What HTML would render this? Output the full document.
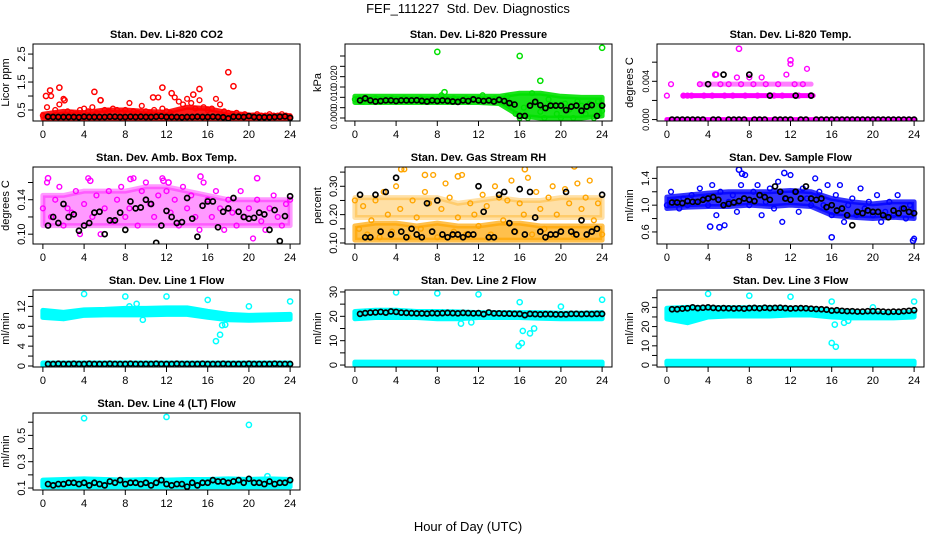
<!DOCTYPE html>
<html><head><meta charset="utf-8"><style>
body{margin:0;background:#fff}
svg{display:block;font-family:"Liberation Sans",sans-serif}
</style></head><body>
<svg id="c" width="936" height="540" viewBox="0 0 936 540">
<text x="468" y="13" text-anchor="middle" font-size="13">FEF_111227&#160; Std. Dev. Diagnostics</text>
<text x="468" y="531" text-anchor="middle" font-size="13">Hour of Day (UTC)</text>
</svg>
<script>
const xTicks=[0,4,8,12,16,20,24];
const times61=[0,0.4,0.8,1.2,1.6,2,2.4,2.8,3.2,3.6,4,4.4,4.8,5.2,5.6,6,6.4,6.8,7.2,7.6,8,8.4,8.8,9.2,9.6,10,10.4,10.8,11.2,11.6,12,12.4,12.8,13.2,13.6,14,14.4,14.8,15.2,15.6,16,16.4,16.8,17.2,17.6,18,18.4,18.8,19.2,19.6,20,20.4,20.8,21.2,21.6,22,22.4,22.8,23.2,23.6,24];
const blackTimes=[0.5,1,1.5,2,2.5,3,3.5,4,4.5,5,5.5,6,6.5,7,7.5,8,8.5,9,9.5,10,10.5,11,11.5,12,12.5,13,13.5,14,14.5,15,15.5,16,16.5,17,17.5,18,18.5,19,19.5,20,20.5,21,21.5,22,22.5,23,23.5,24];
const bandHours=[0,2,4,6,8,10,12,14,16,18,20,22,24];

// CO2
const co2Scatter=[0.3,0.6,1.0,0.5,0.7,0.9,0.45,0.4,0.35,0.5,0.55,0.45,0.6,0.4,0.85,0.5,0.45,0.55,0.5,0.4,0.5,0.75,0.45,0.4,0.65,0.45,0.4,0.5,0.95,0.55,0.45,0.4,0.95,0.8,0.7,0.9,0.75,0.55,0.85,0.6,0.5,0.55,0.9,0.7,0.45,0.4,0.35,0.4,0.3,0.35,0.3,0.3,0.35,0.3,0.3,0.35,0.3,0.3,0.35,0.3,0.25];
const co2BandLo=[0.2,0.2,0.2,0.2,0.2,0.2,0.2,0.2,0.2,0.2,0.2,0.2,0.2];
const co2BandHi=[0.35,0.45,0.4,0.5,0.5,0.45,0.42,0.6,0.55,0.4,0.32,0.3,0.3];
const co2OutX=[15.3,18,18.5,1.6,11.6,15.2,5,12.5,0.7,0.3,2.1,5.6,10.7,14.6];
const co2OutY=[2.98,1.85,1.35,1.3,1.3,1.25,1.15,1.1,1.2,1.0,0.85,0.85,0.95,1.05];
const co2Black=[0.26,0.25,0.25,0.25,0.25,0.25,0.24,0.26,0.25,0.25,0.25,0.25,0.26,0.26,0.25,0.25,0.26,0.25,0.26,0.25,0.25,0.26,0.27,0.25,0.25,0.25,0.24,0.25,0.25,0.26,0.25,0.25,0.26,0.25,0.24,0.2,0.26,0.26,0.25,0.28,0.25,0.24,0.24,0.24,0.25,0.26,0.27,0.22];
// Pressure
const presScatter=[0.009,0.0095,0.008,0.009,0.0085,0.0095,0.008,0.009,0.0085,0.0095,0.009,0.0085,0.0095,0.008,0.009,0.0085,0.0095,0.009,0.008,0.0095,0.0085,0.011,0.009,0.0085,0.0095,0.009,0.0085,0.0095,0.009,0.0085,0.0095,0.011,0.009,0.0085,0.0095,0.009,0.0085,0.0105,0.007,0.002,0.0,0.005,0.0,0.012,0.008,0.003,0.0,0.009,0.006,0.002,0.0,0.007,0.004,0.0,0.008,0.006,0.002,0.007,0.0,0.008,0.0035];
const presBandLo=[0.0075,0.0075,0.0075,0.0075,0.0075,0.0075,0.0075,0.007,0.001,0,0,0,0.001];
const presBandHi=[0.0105,0.0105,0.0105,0.0105,0.0105,0.0105,0.0105,0.0105,0.012,0.012,0.0105,0.01,0.01];
const presOutX=[8,16,18,24,8.7];
const presOutY=[0.032,0.030,0.018,0.034,0.0125];
const presBlack=[0.0085,0.0095,0.0085,0.008,0.0082,0.0085,0.0085,0.0082,0.0085,0.0085,0.0085,0.0086,0.0083,0.008,0.0085,0.0082,0.0085,0.0083,0.008,0.0078,0.0085,0.0082,0.009,0.0085,0.0082,0.0085,0.008,0.0088,0.0082,0.0072,0.0065,0.001,0.001,0.006,0.0078,0.0062,0.0048,0.006,0.006,0.006,0.0038,0.0055,0.006,0.0035,0.0055,0.0062,0.001,0.006];
// Temp
const tempScatter=[0.0025,0.0037,null,null,0.0025,0.0025,0.0025,null,0.0037,0.0025,0.0037,0.0025,0.0047,0.0037,0.0025,0.0037,0.0025,0.0044,0.0037,0.0025,0.0044,0.0037,0.0025,0.0044,0.0037,0.0025,0.0025,0.0037,0.0025,0.0047,0.0058,0.0037,0.0025,0.0037,0.0053,0.0025];
const tempRowT=[0,24];
const tempRow0Lo=[0,0];
const tempRow0Hi=[0,0];
const tempRowAT=[1.6,14.2];
const tempRowALo=[0.0025,0.0025];
const tempRowAHi=[0.0025,0.0025];
const tempRowBT=[3.2,14];
const tempRowBLo=[0.0037,0.0037];
const tempRowBHi=[0.0037,0.0037];
const tempOutX=[7,12,4.7];
const tempOutY=[0.0074,0.0062,0.0047];
const tempBlack=[0,0,0,0,0,0,0,0.0037,0,0,0.0047,0,0,0,0,0.0047,0,0,0,0.0025,0,0,0,0,0.0025,0,0,0.0025,0,0,0,0,0,0,0,0,0,0,0,0,0,0,0,0,0,0,0,0];
// Amb box temp
const ambScatter=[0.13,0.16,0.12,0.14,0.155,0.11,0.13,0.125,0.15,0.10,0.135,0.165,0.12,0.145,0.10,0.13,0.15,0.115,0.14,0.155,0.12,0.13,0.165,0.11,0.15,0.16,0.135,0.12,0.145,0.165,0.15,0.125,0.14,0.11,0.155,0.13,0.145,0.12,0.105,0.16,0.14,0.12,0.15,0.13,0.105,0.14,0.125,0.11,0.15,0.12,0.13,0.095,0.14,0.115,0.105,0.13,0.145,0.12,0.11,0.135,0.14];
const ambBandLo=[0.11,0.11,0.11,0.11,0.11,0.11,0.11,0.11,0.11,0.11,0.11,0.11,0.11];
const ambBandHi=[0.145,0.145,0.15,0.15,0.15,0.155,0.155,0.15,0.145,0.14,0.14,0.14,0.14];
const ambOutX=[0.5,4.6,8.5,11.7,15.3,20.8,12.2];
const ambOutY=[0.165,0.162,0.164,0.162,0.167,0.165,0.16];
const ambBlack=[0.11,0.12,0.113,0.135,0.12,0.123,0.104,0.11,0.113,0.125,0.126,0.10,0.116,0.116,0.125,0.105,0.138,0.13,0.131,0.14,0.135,0.09,0.11,0.127,0.12,0.113,0.114,0.142,0.118,0.097,0.133,0.138,0.138,0.108,0.126,0.13,0.142,0.126,0.12,0.118,0.119,0.125,0.123,0.105,0.128,0.092,0.121,0.144];
// RH
const rhScatter=[0.25,0.15,0.23,0.13,0.18,0.25,0.12,0.28,0.2,0.14,0.3,0.22,0.36,0.12,0.25,0.19,0.15,0.28,0.24,0.34,0.12,0.22,0.31,0.26,0.14,0.19,0.34,0.13,0.24,0.2,0.16,0.27,0.23,0.13,0.3,0.26,0.18,0.25,0.32,0.14,0.24,0.2,0.33,0.13,0.28,0.22,0.15,0.26,0.3,0.2,0.14,0.29,0.24,0.13,0.31,0.22,0.26,0.32,0.18,0.24,0.13];
const rhBandLo=[0.11,0.11,0.11,0.11,0.11,0.11,0.11,0.11,0.11,0.11,0.11,0.11,0.11];
const rhBandHi=[0.16,0.17,0.17,0.16,0.17,0.16,0.16,0.17,0.17,0.16,0.16,0.16,0.16];
const rhBand2Lo=[0.19,0.19,0.19,0.19,0.19,0.19,0.19,0.19,0.19,0.19,0.19,0.19,0.19];
const rhBand2Hi=[0.26,0.26,0.26,0.26,0.26,0.24,0.25,0.26,0.25,0.25,0.26,0.26,0.26];
const rhOutX=[4.5,6.8,10,16.5,21.3];
const rhOutY=[0.36,0.34,0.335,0.36,0.37];
const rhBlack=[0.27,0.12,0.12,0.27,0.14,0.28,0.13,0.33,0.14,0.12,0.15,0.13,0.12,0.24,0.14,0.25,0.13,0.12,0.13,0.13,0.12,0.13,0.13,0.3,0.21,0.12,0.12,0.27,0.28,0.17,0.14,0.29,0.13,0.28,0.19,0.14,0.12,0.13,0.13,0.14,0.28,0.14,0.13,0.18,0.13,0.14,0.15,0.27];
// Sample flow
const flowScatter=[1.0,1.2,1.05,0.95,1.1,1.0,1.15,1.05,1.25,1.1,1.0,1.3,0.85,1.2,0.7,1.05,1.15,0.9,1.3,1.45,1.0,1.2,1.3,0.85,1.05,1.25,0.95,1.35,0.75,1.1,1.45,1.2,0.9,1.25,1.1,1.0,1.4,1.2,1.0,1.3,0.85,1.15,1.3,0.75,1.0,1.1,0.85,1.25,0.95,1.05,0.85,1.15,0.75,0.9,1.05,0.85,1.15,0.95,0.8,1.0,0.5];
const flowBandLo=[0.95,0.97,0.98,0.98,1.0,0.98,1.0,0.98,0.85,0.82,0.8,0.82,0.8];
const flowBandHi=[1.12,1.15,1.18,1.2,1.2,1.2,1.22,1.2,1.1,1.05,1.02,1.05,1.05];
const flowOutX=[4.2,5.1,7,7.3,16,23.9,11.4];
const flowOutY=[0.68,0.67,1.53,1.47,0.52,0.47,1.48];
const flowBlack=[1.04,1.04,1.03,1.06,1.05,1.05,1.08,1.1,1.12,1.08,1.0,1.02,1.04,1.06,1.1,1.08,1.06,1.15,1.12,1.08,1.28,1.2,1.1,1.08,1.2,1.1,1.28,1.1,1.08,1.1,0.97,1.0,0.92,0.95,0.85,0.7,0.9,0.88,0.92,0.9,0.9,0.85,0.82,0.92,0.88,0.95,0.9,0.88];
// Line 1
const l1BandLo=[9.8,9.5,10.2,10.3,10.3,10.3,10.4,10.4,9.8,9.3,9.2,9.3,9.4];
const l1BandHi=[11.2,10.8,11.3,11.4,11.6,11.6,11.7,11.7,11.0,10.4,10.2,10.3,10.4];
const l1LowLo=[0.1,0.1,0.1,0.1,0.1,0.1,0.1,0.1,0.1,0.1,0.1,0.1,0.1];
const l1LowHi=[0.6,0.6,0.6,0.6,0.6,0.6,0.6,0.6,0.6,0.6,0.6,0.6,0.6];
const l1OutX=[4,8,12,16,20,24,16.8,17.2,17.4,17.7,9.7,9.1,8.4];
const l1OutY=[14.5,14,14,13.3,12,13,5,6.3,8.2,8.3,9.3,12.5,12];
const l1Black=[0.4,0.4,0.45,0.4,0.4,0.45,0.4,0.4,0.45,0.4,0.4,0.4,0.45,0.4,0.4,0.4,0.45,0.4,0.4,0.4,0.4,0.45,0.4,0.4,0.4,0.45,0.4,0.4,0.4,0.4,0.45,0.4,0.4,0.4,0.45,0.4,0.4,0.4,0.4,0.45,0.4,0.4,0.4,0.4,0.45,0.4,0.4,0.4];
// Line 2
const l2BandLo=[19,19.5,19.5,19.5,19,19,19.5,19.5,19.5,19.2,19,19,19];
const l2BandHi=[22,22.5,22.5,22,22,21.8,21.5,21.5,21.5,21.5,21.3,21.3,21.5];
const l2LowLo=[0,0,0,0,0,0,0,0,0,0,0,0,0];
const l2LowHi=[1.2,1.2,1.2,1.2,1.2,1.2,1.2,1.2,1.2,1.2,1.2,1.2,1.2];
const l2OutX=[4,8,12,16,20,24,15.9,16.2,16.3,17,17.4,10.3,11.3];
const l2OutY=[29.8,29.4,29,25.8,24,26.8,7.8,9,14,13,15,17,17.5];
const l2Black=[21,21.3,21.5,21.6,21.8,21.5,22,21.8,21.5,21.4,21.3,21.2,21.2,21.1,21.3,21.2,21.3,21.4,21.3,21.2,21.4,21.3,21.2,21.3,20.9,21.6,21.2,21.2,21.1,21.1,21,21,20.5,21,20.9,20.8,20.9,20.9,20.8,20.8,20.8,21,21,20.9,21,20.9,21,21];
// Line 3
const l3BandLo=[24,22,25,25.5,25.5,25.5,26,26,25,24.5,24.5,24.5,25];
const l3BandHi=[29.5,30,29.8,29.8,29.8,29.8,29.5,29,28,27.5,27,27,27.5];
const l3LowLo=[0.3,0.3,0.3,0.3,0.3,0.3,0.3,0.3,0.3,0.3,0.3,0.3,0.3];
const l3LowHi=[2,2,2,2,2,2,2,2,2,2,2,2,2];
const l3OutX=[4,8,12,16,24,16,16.4,16.3,17.2,20,17.6];
const l3OutY=[37,36,35.5,33,33,11.5,9.5,21,22,30,23];
const l3Black=[29,29,29.3,29.5,30,29.6,29.8,30,29.7,29.5,29.6,29.5,29.4,29.5,29.3,29.6,29.7,29.5,29.8,29.6,29.7,29.8,29.6,29.4,29.5,29.6,29.5,29.3,29.1,29,28.8,28.3,28.5,28.2,28,28,27.8,27.8,28,28,28,27.8,27.6,27.8,27.7,28,28.2,28.5];
// Line 4
const l4BandLo=[0.11,0.11,0.11,0.11,0.11,0.11,0.11,0.11,0.11,0.11,0.11,0.11,0.11];
const l4BandHi=[0.16,0.165,0.17,0.165,0.16,0.165,0.16,0.165,0.165,0.17,0.165,0.17,0.165];
const l4OutX=[4,12,20,21.8];
const l4OutY=[0.63,0.64,0.58,0.19];
const l4Black=[0.13,0.12,0.13,0.13,0.14,0.14,0.13,0.14,0.12,0.14,0.13,0.12,0.15,0.14,0.16,0.13,0.14,0.14,0.13,0.14,0.12,0.14,0.16,0.13,0.12,0.13,0.13,0.11,0.14,0.12,0.14,0.14,0.16,0.15,0.15,0.14,0.15,0.16,0.14,0.17,0.14,0.14,0.13,0.15,0.13,0.14,0.14,0.16];

// tick definitions
const co2Ticks=[0.5,1,1.5,2,2.5], co2Labels=[0.5,1.5,2.5];
const presTicks=[0,0.005,0.01,0.015,0.02,0.025,0.03], presLabels=[0,0.01,0.02];
const tempTicks=[0,0.002,0.004,0.006], tempLabels=[0,0.004];
const ambTicks=[0.10,0.12,0.14,0.16], ambLabels=[0.10,0.14];
const rhTicks=[0.10,0.15,0.20,0.25,0.30,0.35], rhLabels=[0.10,0.20,0.30];
const flowTicks=[0.6,0.8,1.0,1.2,1.4], flowLabels=[0.6,1.0,1.4];
const l1Ticks=[0,2,4,6,8,10,12,14], l1Labels=[0,4,8,12];
const l2Ticks=[0,5,10,15,20,25,30], l2Labels=[0,10,20,30];
const l3Ticks=[0,5,10,15,20,25,30,35], l3Labels=[0,10,20,30];
const l4Ticks=[0.1,0.2,0.3,0.4,0.5,0.6], l4Labels=[0.1,0.3,0.5];

const panels=[
 {id:'co2',title:'Stan. Dev. Li-820 CO2',ylab:'Licor ppm',r:0,c:0,y0:0.107,y1:2.86,col:'#ff0000',ticks:co2Ticks,labels:co2Labels,dec:1,
  bands:[[bandHours,co2BandLo,co2BandHi,0.9]],sc:co2Scatter,ox:co2OutX,oy:co2OutY,bk:co2Black},
 {id:'pressure',title:'Stan. Dev. Li-820 Pressure',ylab:'kPa',r:0,c:1,y0:-0.00145,y1:0.0358,col:'#00e000',ticks:presTicks,labels:presLabels,dec:3,
  bands:[[bandHours,presBandLo,presBandHi,0.9]],sc:presScatter,ox:presOutX,oy:presOutY,bk:presBlack},
 {id:'temp',title:'Stan. Dev. Li-820 Temp.',ylab:'degrees C',r:0,c:2,y0:-0.00015,y1:0.0079,col:'#ff00ff',ticks:tempTicks,labels:tempLabels,dec:3,
  bands:[[tempRowT,tempRow0Lo,tempRow0Hi,1],[tempRowAT,tempRowALo,tempRowAHi,1],[tempRowBT,tempRowBLo,tempRowBHi,0.5]],sc:tempScatter,ox:tempOutX,oy:tempOutY,bk:tempBlack},
 {id:'amb-temp',title:'Stan. Dev. Amb. Box Temp.',ylab:'degrees C',r:1,c:0,y0:0.0886,y1:0.178,col:'#ff00ff',ticks:ambTicks,labels:ambLabels,dec:2,
  bands:[[bandHours,ambBandLo,ambBandHi,0.4]],sc:ambScatter,ox:ambOutX,oy:ambOutY,bk:ambBlack},
 {id:'rh',title:'Stan. Dev. Gas Stream RH',ylab:'percent',r:1,c:1,y0:0.0964,y1:0.368,col:'#ffa500',ticks:rhTicks,labels:rhLabels,dec:2,
  bands:[[bandHours,rhBandLo,rhBandHi,0.7],[bandHours,rhBand2Lo,rhBand2Hi,0.35]],sc:rhScatter,ox:rhOutX,oy:rhOutY,bk:rhBlack},
 {id:'sample-flow',title:'Stan. Dev. Sample Flow',ylab:'ml/min',r:1,c:2,y0:0.42,y1:1.57,col:'#0000ff',ticks:flowTicks,labels:flowLabels,dec:1,
  bands:[[bandHours,flowBandLo,flowBandHi,0.8]],sc:flowScatter,ox:flowOutX,oy:flowOutY,bk:flowBlack},
 {id:'line1',title:'Stan. Dev. Line 1 Flow',ylab:'ml/min',r:2,c:0,y0:-0.2,y1:15.3,col:'#00ffff',ticks:l1Ticks,labels:l1Labels,dec:0,
  bands:[[bandHours,l1BandLo,l1BandHi,1],[bandHours,l1LowLo,l1LowHi,1]],sc:[],ox:l1OutX,oy:l1OutY,bk:l1Black},
 {id:'line2',title:'Stan. Dev. Line 2 Flow',ylab:'ml/min',r:2,c:1,y0:-0.8,y1:30.8,col:'#00ffff',ticks:l2Ticks,labels:l2Labels,dec:0,
  bands:[[bandHours,l2BandLo,l2BandHi,1],[bandHours,l2LowLo,l2LowHi,1]],sc:[],ox:l2OutX,oy:l2OutY,bk:l2Black},
 {id:'line3',title:'Stan. Dev. Line 3 Flow',ylab:'ml/min',r:2,c:2,y0:-1,y1:39,col:'#00ffff',ticks:l3Ticks,labels:l3Labels,dec:0,
  bands:[[bandHours,l3BandLo,l3BandHi,1],[bandHours,l3LowLo,l3LowHi,1]],sc:[],ox:l3OutX,oy:l3OutY,bk:l3Black},
 {id:'line4',title:'Stan. Dev. Line 4 (LT) Flow',ylab:'ml/min',r:3,c:0,y0:0.085,y1:0.67,col:'#00ffff',ticks:l4Ticks,labels:l4Labels,dec:1,
  bands:[[bandHours,l4BandLo,l4BandHi,1]],sc:[],ox:l4OutX,oy:l4OutY,bk:l4Black}
];

const NS='http://www.w3.org/2000/svg';
const svg=document.getElementById('c');
function mk(tag,attrs,parent){const e=document.createElementNS(NS,tag);for(const k in attrs)e.setAttribute(k,attrs[k]);parent.appendChild(e);return e;}
panels.forEach(p=>{
 const L=33+312*p.c, T=44+123*p.r, W=267, H=77;
 const g=mk('g',{},svg);
 
 
 const X=v=>L+(v+0.96)/25.92*W;
 const Y=v=>T+H-(v-p.y0)/(p.y1-p.y0)*H;
 const clip='clip-'+p.id;
 const cp=mk('clipPath',{id:clip},g); mk('rect',{x:L,y:T,width:W,height:H},cp);
 const marks=mk('g',{'clip-path':'url(#'+clip+')'},g);
 
 
 p.bands.forEach(b=>{
  const [t,lo,hi,op]=b;
  let pts=t.map((tt,i)=>X(tt)+','+Y(hi[i]));
  for(let i=t.length-1;i>=0;i--)pts.push(X(t[i])+','+Y(lo[i]));
  const pg=mk('polygon',{points:pts.join(' '),fill:p.col,stroke:p.col,'stroke-width':5,'stroke-linejoin':'round','fill-opacity':op,'stroke-opacity':op},marks);
  
  
 });
 p.sc.forEach((v,i)=>{ if(v===null||i>=times61.length)return;
  const c=mk('circle',{cx:X(times61[i]),cy:Y(v),r:2.4,fill:'none',stroke:p.col,'stroke-width':1.4},marks);
  
  
 });
 p.ox.forEach((xv,i)=>{
  const c=mk('circle',{cx:X(xv),cy:Y(p.oy[i]),r:2.6,fill:'none',stroke:p.col,'stroke-width':1.5},marks);
  
  
 });
 p.bk.forEach((v,i)=>{
  const c=mk('circle',{cx:X(blackTimes[i]),cy:Y(v),r:2.5,fill:'none',stroke:'#000','stroke-width':1.7},marks);
  
  
 });
 const box=mk('rect',{x:L,y:T,width:W,height:H,fill:'none',stroke:'#000','stroke-width':1},g);
 
 
 const tt=mk('text',{x:L+W/2,y:T-6,'text-anchor':'middle','font-size':11,'font-weight':'bold'},g);
 tt.textContent=p.title;
 
 
 const xa=mk('g',{},g);
 
 
 mk('line',{x1:X(0),x2:X(24),y1:T+H,y2:T+H,stroke:'#000'},xa);
 xTicks.forEach(v=>{
  mk('line',{x1:X(v),x2:X(v),y1:T+H,y2:T+H+5,stroke:'#000'},xa);
  const t=mk('text',{x:X(v),y:T+H+17,'text-anchor':'middle','font-size':11},xa); t.textContent=v;
 });
 const ya=mk('g',{},g);
 
 
 mk('line',{x1:L,x2:L,y1:Y(p.ticks[0]),y2:Y(p.ticks[p.ticks.length-1]),stroke:'#000'},ya);
 p.ticks.forEach(v=>{ mk('line',{x1:L-5,x2:L,y1:Y(v),y2:Y(v),stroke:'#000'},ya); });
 const fs=p.dec>=3?9:11;
 p.labels.forEach(v=>{
  const yy=Y(v), xx=L-8;
  const t=mk('text',{x:xx,y:yy,'text-anchor':'middle','font-size':fs,transform:'rotate(-90 '+xx+' '+yy+')'},ya);
  t.textContent=v.toFixed(p.dec);
 });
 const yl=mk('text',{x:L-24,y:T+H/2,'text-anchor':'middle','font-size':11,transform:'rotate(-90 '+(L-24)+' '+(T+H/2)+')'},g);
 yl.textContent=p.ylab;
 
 
});
</script>
</body></html>
